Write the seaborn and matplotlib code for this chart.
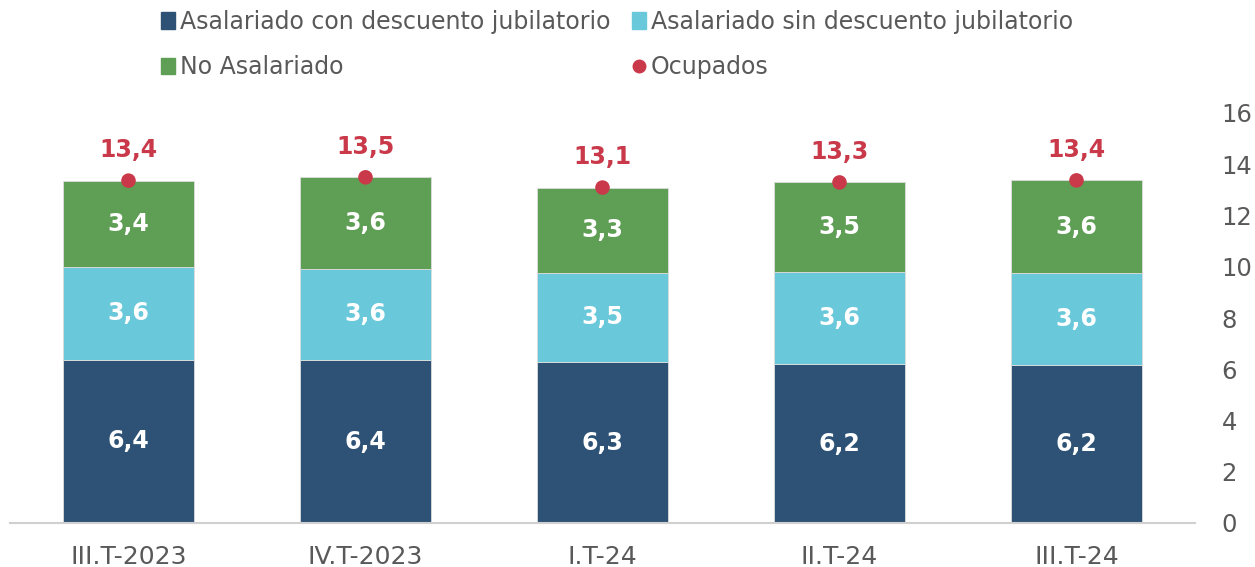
import pandas as pd
import numpy as np
import seaborn as sns
import matplotlib.pyplot as plt
from matplotlib.patches import Patch
from matplotlib.lines import Line2D

trimestres = ['III.T-2023', 'IV.T-2023', 'I.T-24', 'II.T-24', 'III.T-24']
con_descuento = [6.37, 6.36, 6.27, 6.19, 6.17]
sin_descuento = [3.63, 3.57, 3.50, 3.60, 3.60]
no_asalariado = [3.36, 3.56, 3.32, 3.50, 3.60]
ocupados = [13.36, 13.49, 13.09, 13.29, 13.37]

c_dark = '#2D5275'
c_light = '#69C8DA'
c_green = '#5F9E55'
c_red = '#C9394A'
c_text = '#595959'

df = pd.DataFrame({'trim': trimestres, 'con': con_descuento,
                   'sin': sin_descuento, 'no': no_asalariado, 'ocup': ocupados})
df['base2'] = df['con'] + df['sin']

sns.set_style('white')
plt.rcParams['font.family'] = ['DejaVu Sans']

fig = plt.figure(figsize=(12.55, 5.67), dpi=100)
ax = fig.add_axes([10 / 1255, 44 / 567, 1185 / 1255, 410 / 567])

w = 0.555
sns.barplot(data=df, x='trim', y='con', color=c_dark, width=w, ax=ax,
            edgecolor='#dddddd', linewidth=0.6, saturation=1)
sns.barplot(data=df, x='trim', y='sin', bottom=df['con'], color=c_light, width=w, ax=ax,
            edgecolor='#dddddd', linewidth=0.6, saturation=1)
sns.barplot(data=df, x='trim', y='no', bottom=df['base2'], color=c_green, width=w, ax=ax,
            edgecolor='#dddddd', linewidth=0.6, saturation=1)
sns.scatterplot(data=df, x='trim', y='ocup', color=c_red, s=110, ax=ax, zorder=5,
                edgecolor='none')

def fmt(v):
    return f'{v:.1f}'.replace('.', ',')

for i in range(len(trimestres)):
    ax.text(i, con_descuento[i] / 2, fmt(con_descuento[i]), ha='center', va='center',
            color='white', fontsize=17, fontweight='bold')
    ax.text(i, con_descuento[i] + sin_descuento[i] / 2, fmt(sin_descuento[i]), ha='center',
            va='center', color='white', fontsize=17, fontweight='bold')
    ax.text(i, df['base2'][i] + no_asalariado[i] / 2, fmt(no_asalariado[i]), ha='center',
            va='center', color='white', fontsize=17, fontweight='bold')
    ax.text(i, ocupados[i] + 0.72, fmt(ocupados[i]), ha='center', va='bottom',
            color=c_red, fontsize=17, fontweight='bold')

ax.set_xlim(-0.5, 4.5)
ax.set_ylim(0, 16)
ax.set_yticks(range(0, 17, 2))
ax.yaxis.tick_right()
ax.set_xlabel('')
ax.set_ylabel('')
ax.tick_params(axis='y', length=0, labelsize=17.5, labelcolor=c_text, pad=19)
ax.tick_params(axis='x', length=0, labelsize=18, labelcolor=c_text, pad=16)
for s in ['top', 'left', 'right']:
    ax.spines[s].set_visible(False)
ax.spines['bottom'].set_color('#d0d0d0')
ax.spines['bottom'].set_linewidth(1.5)

handles = [
    Patch(color=c_dark, label='Asalariado con descuento jubilatorio'),
    Patch(color=c_light, label='Asalariado sin descuento jubilatorio'),
    Patch(color=c_green, label='No Asalariado'),
    Line2D([], [], marker='o', color=c_red, linestyle='none', markersize=9, label='Ocupados'),
]
order = [0, 2, 1, 3]
leg = fig.legend([handles[k] for k in order], [handles[k].get_label() for k in order],
                 ncol=2, loc='upper left', bbox_to_anchor=(140 / 1255, 1.02), frameon=False,
                 fontsize=17, handlelength=0.6, handleheight=0.7, handletextpad=0.2,
                 columnspacing=0.9, labelspacing=0.9)
for t in leg.get_texts():
    t.set_color(c_text)

fig.savefig('out.png', dpi=100)
